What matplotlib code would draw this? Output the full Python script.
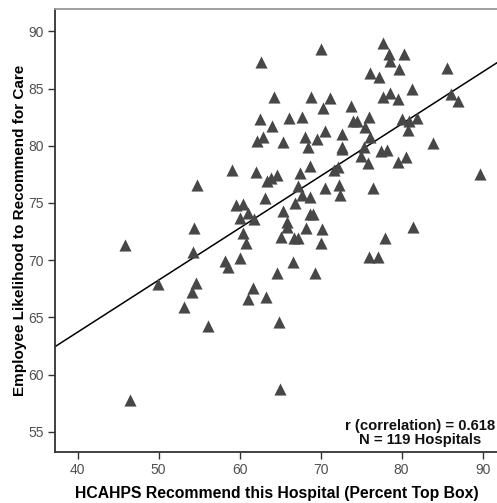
import matplotlib
matplotlib.use("Agg")
import matplotlib.pyplot as plt
import numpy as np

plt.rcParams['font.family'] = ['Liberation Sans', 'DejaVu Sans']

# HCAHPS recommend (percent top box) vs employee likelihood to recommend
hcahps = [62.7, 70.0, 77.7, 78.4, 78.6, 80.3, 76.1, 77.2, 79.7, 85.6,
          64.2, 68.8, 71.2, 70.3, 73.7, 77.7, 78.6, 79.5, 81.3, 86.1,
          87.0, 62.5, 64.0, 66.1, 67.7, 74.0, 74.5, 76.0, 75.5, 70.6,
          80.0, 80.9, 81.9, 80.8, 62.2, 62.9, 65.4, 68.1, 68.4, 69.6,
          72.6, 72.6, 72.7, 75.4, 76.1, 77.4, 78.2, 83.9, 75.0, 75.9,
          79.6, 80.5, 89.7, 59.1, 62.0, 63.4, 63.9, 64.6, 67.5, 68.7,
          71.6, 72.2, 54.8, 67.2, 70.6, 72.3, 72.4, 76.5, 67.7, 66.9,
          68.7, 63.2, 59.5, 60.4, 61.1, 60.0, 61.8, 65.3, 68.7, 69.1,
          65.9, 65.9, 68.2, 70.2, 54.4, 60.4, 60.8, 65.1, 66.7, 67.2,
          70.1, 77.9, 81.4, 54.3, 58.2, 58.6, 60.1, 64.6, 69.3, 66.6,
          76.0, 77.1, 54.6, 54.1, 53.2, 56.1, 61.7, 61.1, 63.3, 64.9,
          65.0, 45.9, 46.5, 49.9]
employee = [87.3, 88.5, 89.0, 88.0, 87.4, 88.0, 86.4, 86.0, 86.7, 86.8,
            84.3, 84.3, 84.2, 83.3, 83.5, 84.3, 84.6, 84.1, 85.0, 84.5,
            83.9, 82.3, 81.7, 82.4, 82.5, 82.2, 82.2, 82.5, 81.6, 81.3,
            82.3, 82.2, 82.4, 81.4, 80.4, 80.8, 80.3, 80.8, 79.9, 80.6,
            81.0, 79.9, 79.7, 79.9, 80.8, 79.5, 79.6, 80.2, 79.1, 78.5,
            78.6, 79.0, 77.5, 77.9, 77.7, 76.9, 77.2, 77.4, 77.6, 78.2,
            77.9, 78.1, 76.6, 76.5, 76.3, 76.6, 75.7, 76.3, 75.7, 75.0,
            75.5, 75.4, 74.8, 74.9, 74.1, 73.7, 73.6, 74.3, 74.0, 74.0,
            73.3, 72.9, 72.8, 72.7, 72.8, 72.4, 71.5, 72.0, 71.9, 71.9,
            71.5, 71.9, 72.9, 70.7, 69.9, 69.4, 70.2, 68.9, 68.9, 69.8,
            70.3, 70.3, 68.0, 67.2, 65.9, 64.2, 67.6, 66.6, 66.8, 64.6,
            58.7, 71.3, 57.8, 67.9]

# fit line
fit_intercept = 45.5
fit_slope = 0.455

x_ticks = [40, 50, 60, 70, 80, 90]
y_ticks = [55, 60, 65, 70, 75, 80, 85, 90]
x_lim = (37.22, 91.9)
y_lim = (53.2, 92.0)

fig = plt.figure(figsize=(4.97, 5.03), dpi=100)
ax = fig.add_axes([0.1107, 0.1008, 0.8913, 0.8823])

ax.scatter(hcahps, employee, marker='^', s=76, color='#474747', linewidths=0, zorder=3)

xs = np.array(x_lim)
ax.plot(xs, fit_intercept + fit_slope * xs, color='black', lw=1.1, zorder=2)

ax.set_xlim(*x_lim)
ax.set_ylim(*y_lim)
ax.set_xticks(x_ticks)
ax.set_yticks(y_ticks)
ax.tick_params(direction='out', length=5, width=1, color='#333333',
               labelsize=10, labelcolor='#505050', pad=3)
ax.spines['left'].set_color('#333333')
ax.spines['bottom'].set_color('#333333')
ax.spines['left'].set_linewidth(1.3)
ax.spines['bottom'].set_linewidth(1.3)
ax.spines['top'].set_color('#999999')
ax.spines['top'].set_linewidth(1.3)
ax.spines['right'].set_visible(False)

ax.set_xlabel('HCAHPS Recommend this Hospital (Percent Top Box)',
              fontsize=11.3, fontweight='bold', labelpad=6)
ax.set_ylabel('Employee Likelihood to Recommend for Care',
              fontsize=11, fontweight='bold', labelpad=1)

ax.text(82.3, 54.9, 'r (correlation) = 0.618\nN = 119 Hospitals',
        ha='center', va='center', fontsize=10.7, fontweight='bold',
        linespacing=1.05, color='#111111')

fig.savefig('out.png', dpi=100)
